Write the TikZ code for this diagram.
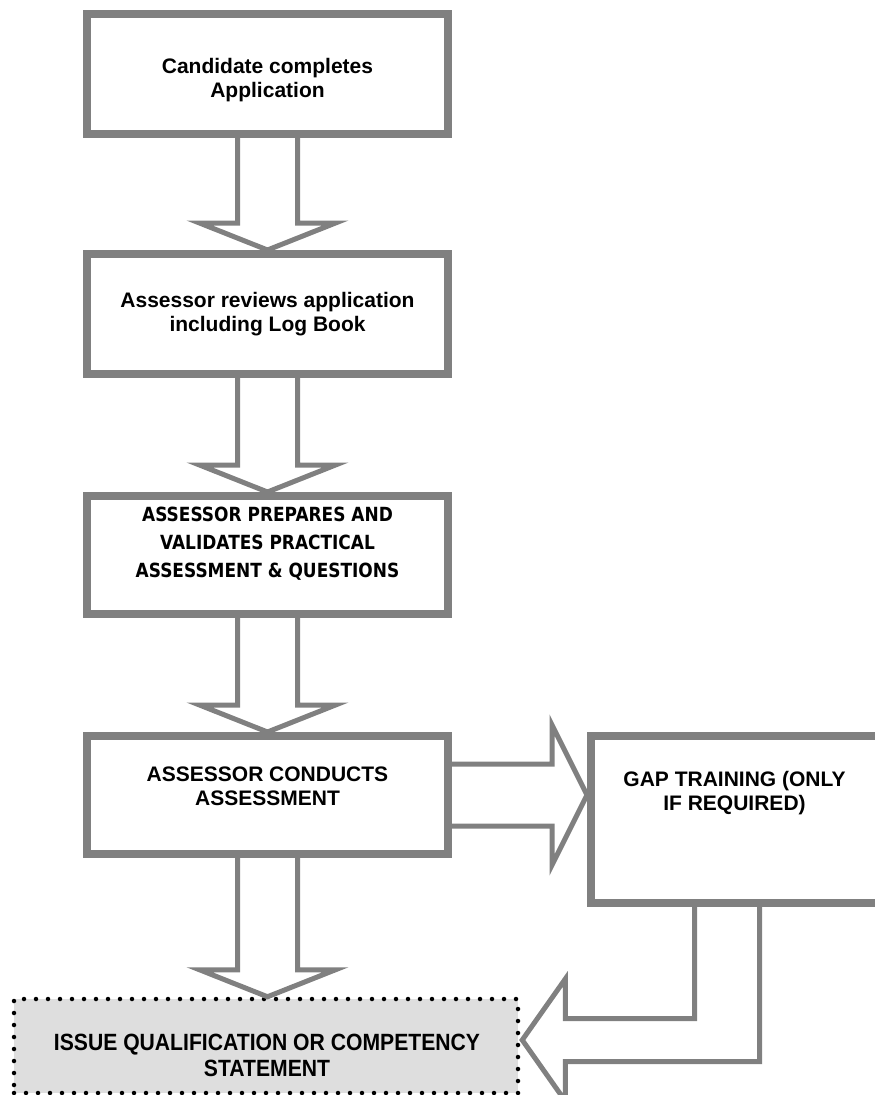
\documentclass[tikz,border=0pt]{standalone}
\usepackage{fontspec}
\setmainfont{Liberation Sans}
\newfontfamily\tahfont{DejaVu Sans}[FakeStretch=0.87]
\newfontfamily\narrowfont{Liberation Sans}[FakeStretch=0.9]
\usetikzlibrary{calc}
\definecolor{boxgrey}{HTML}{808080}
\definecolor{fillgrey}{HTML}{DEDEDE}
\begin{document}
\begin{tikzpicture}[x=1pt,y=-1pt,
  box/.style={draw=boxgrey, line width=8pt, fill=white, minimum width=361pt, inner sep=0pt},
  txt/.style={align=center, font=\bfseries\fontsize{21}{24}\selectfont, inner sep=0pt},
  blockarrow/.style={draw=boxgrey, line width=5pt, line join=miter, miter limit=20}
]
\useasboundingbox (0,0) rectangle (875,1095);

% boxes
\node[box, minimum height=120pt] (b1) at (267.5,74) {};
\node[box, minimum height=120pt] (b2) at (267.5,314) {};
\node[box, minimum height=118pt] (b3) at (267.5,555) {};
\node[box, minimum height=118pt] (b4) at (267.5,795) {};
\node[box, minimum width=290pt, minimum height=167pt] (gap) at (736,819.5) {};
\node[draw=black, fill=fillgrey, dash pattern=on 0pt off 12pt, line cap=round,
      line width=4.5pt, minimum width=504pt, minimum height=94pt, inner sep=0pt] (bot) at (266,1046) {};

% texts
\node[txt] (t1) at (267.5,80) {Candidate completes\\Application};
\node[txt] (t2) at (267.5,314) {Assessor reviews application\\including Log Book};
\node[align=center, inner sep=0pt, font=\tahfont\bfseries\fontsize{19.5}{28}\selectfont] (t3) at (267.5,544)
  {ASSESSOR PREPARES AND\\VALIDATES PRACTICAL\\ASSESSMENT \& QUESTIONS};
\node[txt] (t4) at (267.5,786) {ASSESSOR CONDUCTS\\ASSESSMENT};
\node[txt] (t5) at (734.5,793) {GAP TRAINING (ONLY\\IF REQUIRED)};
\node[align=center, inner sep=0pt, font=\narrowfont\bfseries\fontsize{23.5}{26}\selectfont] (t6) at (267,1055)
  {ISSUE QUALIFICATION OR COMPETENCY\\STATEMENT};

% vertical block arrows
\foreach \a/\b in {b1/b2, b2/b3, b3/b4, b4/bot}{
  \draw[blockarrow] ($(\a.south)+(-30,0)$) -- ($(\a.south |- \b.north)+(-30,-27)$)
    -- ($(\a.south |- \b.north)+(-68,-27)$) -- (\a.south |- \b.north)
    -- ($(\a.south |- \b.north)+(68,-27)$) -- ($(\a.south |- \b.north)+(30,-27)$)
    -- ($(\a.south)+(30,0)$);
}

% right block arrow to gap training
\coordinate (rt) at (gap.west |- b4.east);
\draw[blockarrow] ($(b4.east)+(0,-31)$) -- ($(rt)+(-35,-31)$) -- ($(rt)+(-35,-70)$)
  -- (rt) -- ($(rt)+(-35,70)$) -- ($(rt)+(-35,31)$) -- ($(b4.east)+(0,31)$);

% bent block arrow from gap training to issue
\coordinate (lt) at ($(bot.east)+(2,-6)$);
\draw[blockarrow] ($(gap.south)+(-41.5,0)$) |- ($(lt)+(43,-21.5)$) -- ($(lt)+(43,-61)$)
  -- (lt) -- ($(lt)+(43,61)$) -- ($(lt)+(43,21.5)$) -| ($(gap.south)+(23.5,0)$);
\end{tikzpicture}
\end{document}
